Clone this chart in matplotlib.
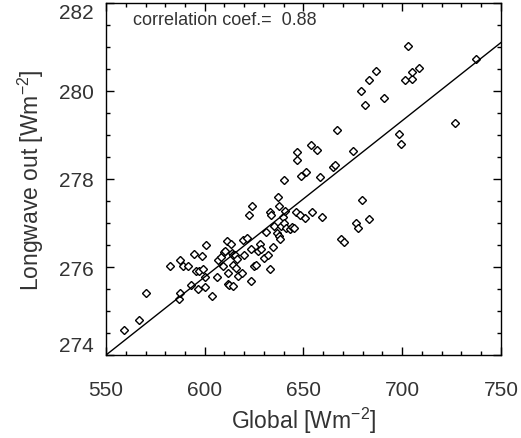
import matplotlib
matplotlib.use("Agg")
import matplotlib.pyplot as plt
from matplotlib.ticker import MultipleLocator

plt.rcParams['font.family'] = ['Liberation Sans', 'DejaVu Sans']
plt.rcParams['mathtext.default'] = 'regular'

# values
global_flux = [
    559.1, 566.6, 570.3, 582.4, 587.0, 587.6, 587.6, 589.0, 591.7, 593.0,
    594.4, 595.7, 597.0, 596.6, 598.8, 599.0, 600.1, 600.3, 600.8, 603.7,
    606.4, 606.7, 608.1, 609.1, 609.6, 610.3, 611.3, 611.6, 611.6, 612.4,
    613.4, 613.8, 614.2, 614.5, 615.3, 614.5, 615.7, 616.2, 616.8, 618.7,
    619.5, 620.0, 621.2, 622.3, 623.3, 624.1, 623.3, 624.9, 625.9, 627.1,
    627.8, 628.6, 629.8, 630.9, 632.2, 632.9, 632.9, 633.4, 634.6, 635.1,
    636.4, 637.2, 637.6, 637.6, 638.1, 638.6, 639.6, 640.0, 640.3, 640.6,
    641.0, 643.2, 644.3, 645.2, 646.2, 648.4, 648.7, 650.8, 651.1, 654.3,
    658.4, 659.4, 646.9, 646.9, 653.8, 656.7, 703.1, 686.7, 683.2, 679.1,
    681.1, 690.6, 701.2, 705.1, 704.8, 708.5, 737.5, 726.7, 698.5, 699.5,
    666.8, 674.9, 665.1, 666.1, 679.8, 676.4, 677.7, 683.3, 668.8, 670.4,
]
longwave_out = [
    274.58, 274.80, 275.40, 276.02, 275.28, 275.42, 276.17, 276.02, 276.03, 275.58,
    276.29, 275.90, 275.92, 275.49, 276.25, 275.96, 275.55, 275.78, 276.50, 275.33,
    275.78, 276.17, 276.23, 276.03, 276.33, 276.37, 276.59, 275.87, 275.61, 275.60,
    276.52, 276.32, 275.56, 276.28, 276.27, 276.05, 275.97, 276.18, 275.79, 275.86,
    276.61, 276.28, 276.66, 277.18, 275.68, 277.39, 276.40, 276.02, 276.05, 276.36,
    276.52, 276.41, 276.20, 276.80, 276.27, 275.95, 277.24, 277.19, 276.46, 276.93,
    276.77, 277.60, 277.39, 276.71, 276.64, 276.93, 277.13, 277.98, 277.00, 277.28,
    276.88, 276.86, 276.92, 276.88, 277.26, 277.19, 278.06, 277.12, 278.17, 277.25,
    278.04, 277.13, 278.62, 278.43, 278.78, 278.67, 281.03, 280.46, 280.25, 280.00,
    279.68, 279.85, 280.25, 280.27, 280.44, 280.52, 280.72, 279.27, 279.02, 278.80,
    279.11, 278.63, 278.28, 278.31, 277.53, 276.99, 276.88, 277.09, 276.63, 276.57,
]

# regression line end points
fit_x = [550, 750]
fit_y = [274.0, 281.1]
corr_coef = 0.88

x_ticks = [550, 600, 650, 700, 750]
y_ticks = [274, 276, 278, 280, 282]

fig = plt.figure(figsize=(5.21, 4.39), dpi=100)
ax = fig.add_axes([0.2035, 0.189, 0.758, 0.802])

ax.plot(global_flux, longwave_out, linestyle='none', marker='D',
        markersize=3.8, markerfacecolor='white', markeredgecolor='black',
        markeredgewidth=1.0)
ax.plot(fit_x, fit_y, color='black', linewidth=1.0)

ax.set_xlim(550, 750)
ax.set_ylim(274, 282)
ax.set_xticks(x_ticks)
ax.set_yticks(y_ticks)
ax.xaxis.set_minor_locator(MultipleLocator(10))
ax.yaxis.set_minor_locator(MultipleLocator(0.5))

ax.tick_params(which='both', direction='in', top=True, right=True,
               colors='black', labelcolor='#333333', labelsize=15)
ax.tick_params(which='major', length=6, width=1.0)
ax.tick_params(which='minor', length=3, width=1.0)
ax.tick_params(axis='x', pad=18)
ax.tick_params(axis='y', pad=9)

# keep the end labels inside the frame, like the original
yt = ax.yaxis.get_major_ticks()
yt[0].label1.set_va('bottom')
yt[-1].label1.set_va('top')

for sp in ax.spines.values():
    sp.set_linewidth(1.0)

ax.set_xlabel('Global [Wm$^{-2}$]', fontsize=16.5, color='#333333', labelpad=4)
ax.set_ylabel('Longwave out [Wm$^{-2}$]', fontsize=16.5, color='#333333', labelpad=9)

ax.text(563.7, 281.62, 'correlation coef.=  %.2f' % corr_coef, fontsize=13,
        color='#333333', va='center', ha='left')

fig.savefig('out.png', dpi=100)
